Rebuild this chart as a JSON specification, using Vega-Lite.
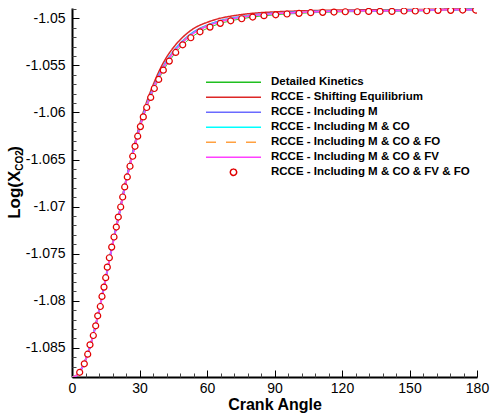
{
  "$schema": "https://vega.github.io/schema/vega-lite/v6.json",
  "width": 405,
  "height": 369,
  "autosize": {"type": "none"},
  "padding": {"left": 72, "top": 8, "right": 13, "bottom": 41},
  "config": {"view": {"stroke": null}, "font": "Liberation Sans"},
  "datasets": {
    "lines": [
      {"series":"Detailed Kinetics","angle":0,"value":-1.08818},{"series":"Detailed Kinetics","angle":3,"value":-1.08772},{"series":"Detailed Kinetics","angle":6,"value":-1.08634},{"series":"Detailed Kinetics","angle":9,"value":-1.0841},{"series":"Detailed Kinetics","angle":12,"value":-1.08111},{"series":"Detailed Kinetics","angle":15,"value":-1.07768},{"series":"Detailed Kinetics","angle":18,"value":-1.0741},{"series":"Detailed Kinetics","angle":21,"value":-1.07085},{"series":"Detailed Kinetics","angle":24,"value":-1.06745},{"series":"Detailed Kinetics","angle":27,"value":-1.06455},{"series":"Detailed Kinetics","angle":30,"value":-1.06184},{"series":"Detailed Kinetics","angle":33,"value":-1.0596},{"series":"Detailed Kinetics","angle":36,"value":-1.0578},{"series":"Detailed Kinetics","angle":39,"value":-1.05626},{"series":"Detailed Kinetics","angle":42,"value":-1.05499},{"series":"Detailed Kinetics","angle":45,"value":-1.05397},{"series":"Detailed Kinetics","angle":48,"value":-1.05312},{"series":"Detailed Kinetics","angle":52,"value":-1.05223},{"series":"Detailed Kinetics","angle":56,"value":-1.05155},{"series":"Detailed Kinetics","angle":60,"value":-1.05108},{"series":"Detailed Kinetics","angle":65,"value":-1.05061},{"series":"Detailed Kinetics","angle":70,"value":-1.05029},{"series":"Detailed Kinetics","angle":75,"value":-1.05006},{"series":"Detailed Kinetics","angle":80,"value":-1.04987},{"series":"Detailed Kinetics","angle":90,"value":-1.04963},{"series":"Detailed Kinetics","angle":100,"value":-1.04948},{"series":"Detailed Kinetics","angle":110,"value":-1.04937},{"series":"Detailed Kinetics","angle":120,"value":-1.04931},{"series":"Detailed Kinetics","angle":135,"value":-1.04926},{"series":"Detailed Kinetics","angle":150,"value":-1.04922},{"series":"Detailed Kinetics","angle":165,"value":-1.04915},{"series":"Detailed Kinetics","angle":180,"value":-1.04912},
      {"series":"RCCE - Shifting Equilibrium","angle":0,"value":-1.08813},{"series":"RCCE - Shifting Equilibrium","angle":3,"value":-1.08767},{"series":"RCCE - Shifting Equilibrium","angle":6,"value":-1.08626},{"series":"RCCE - Shifting Equilibrium","angle":9,"value":-1.084},{"series":"RCCE - Shifting Equilibrium","angle":12,"value":-1.08101},{"series":"RCCE - Shifting Equilibrium","angle":15,"value":-1.07756},{"series":"RCCE - Shifting Equilibrium","angle":18,"value":-1.07395},{"series":"RCCE - Shifting Equilibrium","angle":21,"value":-1.07065},{"series":"RCCE - Shifting Equilibrium","angle":24,"value":-1.06715},{"series":"RCCE - Shifting Equilibrium","angle":27,"value":-1.06415},{"series":"RCCE - Shifting Equilibrium","angle":30,"value":-1.06134},{"series":"RCCE - Shifting Equilibrium","angle":33,"value":-1.059},{"series":"RCCE - Shifting Equilibrium","angle":36,"value":-1.0571},{"series":"RCCE - Shifting Equilibrium","angle":39,"value":-1.05546},{"series":"RCCE - Shifting Equilibrium","angle":42,"value":-1.05414},{"series":"RCCE - Shifting Equilibrium","angle":45,"value":-1.05312},{"series":"RCCE - Shifting Equilibrium","angle":48,"value":-1.05229},{"series":"RCCE - Shifting Equilibrium","angle":52,"value":-1.05143},{"series":"RCCE - Shifting Equilibrium","angle":56,"value":-1.05082},{"series":"RCCE - Shifting Equilibrium","angle":60,"value":-1.05043},{"series":"RCCE - Shifting Equilibrium","angle":65,"value":-1.05004},{"series":"RCCE - Shifting Equilibrium","angle":70,"value":-1.04979},{"series":"RCCE - Shifting Equilibrium","angle":75,"value":-1.04961},{"series":"RCCE - Shifting Equilibrium","angle":80,"value":-1.04947},{"series":"RCCE - Shifting Equilibrium","angle":90,"value":-1.04931},{"series":"RCCE - Shifting Equilibrium","angle":100,"value":-1.04922},{"series":"RCCE - Shifting Equilibrium","angle":110,"value":-1.04915},{"series":"RCCE - Shifting Equilibrium","angle":120,"value":-1.04911},{"series":"RCCE - Shifting Equilibrium","angle":135,"value":-1.04909},{"series":"RCCE - Shifting Equilibrium","angle":150,"value":-1.04907},{"series":"RCCE - Shifting Equilibrium","angle":165,"value":-1.04902},{"series":"RCCE - Shifting Equilibrium","angle":180,"value":-1.049},
      {"series":"RCCE - Including M","angle":0,"value":-1.08816},{"series":"RCCE - Including M","angle":3,"value":-1.0877},{"series":"RCCE - Including M","angle":6,"value":-1.0863},{"series":"RCCE - Including M","angle":9,"value":-1.08405},{"series":"RCCE - Including M","angle":12,"value":-1.08106},{"series":"RCCE - Including M","angle":15,"value":-1.07762},{"series":"RCCE - Including M","angle":18,"value":-1.07403},{"series":"RCCE - Including M","angle":21,"value":-1.07075},{"series":"RCCE - Including M","angle":24,"value":-1.0673},{"series":"RCCE - Including M","angle":27,"value":-1.06435},{"series":"RCCE - Including M","angle":30,"value":-1.06159},{"series":"RCCE - Including M","angle":33,"value":-1.0593},{"series":"RCCE - Including M","angle":36,"value":-1.05745},{"series":"RCCE - Including M","angle":39,"value":-1.05586},{"series":"RCCE - Including M","angle":42,"value":-1.05457},{"series":"RCCE - Including M","angle":45,"value":-1.05355},{"series":"RCCE - Including M","angle":48,"value":-1.05271},{"series":"RCCE - Including M","angle":52,"value":-1.05183},{"series":"RCCE - Including M","angle":56,"value":-1.05119},{"series":"RCCE - Including M","angle":60,"value":-1.05076},{"series":"RCCE - Including M","angle":65,"value":-1.05033},{"series":"RCCE - Including M","angle":70,"value":-1.05004},{"series":"RCCE - Including M","angle":75,"value":-1.04984},{"series":"RCCE - Including M","angle":80,"value":-1.04967},{"series":"RCCE - Including M","angle":90,"value":-1.04947},{"series":"RCCE - Including M","angle":100,"value":-1.04935},{"series":"RCCE - Including M","angle":110,"value":-1.04926},{"series":"RCCE - Including M","angle":120,"value":-1.04921},{"series":"RCCE - Including M","angle":135,"value":-1.04918},{"series":"RCCE - Including M","angle":150,"value":-1.04915},{"series":"RCCE - Including M","angle":165,"value":-1.04909},{"series":"RCCE - Including M","angle":180,"value":-1.04906},
      {"series":"RCCE - Including M & CO","angle":0,"value":-1.08816},{"series":"RCCE - Including M & CO","angle":3,"value":-1.0877},{"series":"RCCE - Including M & CO","angle":6,"value":-1.0863},{"series":"RCCE - Including M & CO","angle":9,"value":-1.08405},{"series":"RCCE - Including M & CO","angle":12,"value":-1.08106},{"series":"RCCE - Including M & CO","angle":15,"value":-1.07763},{"series":"RCCE - Including M & CO","angle":18,"value":-1.07404},{"series":"RCCE - Including M & CO","angle":21,"value":-1.07077},{"series":"RCCE - Including M & CO","angle":24,"value":-1.06733},{"series":"RCCE - Including M & CO","angle":27,"value":-1.06439},{"series":"RCCE - Including M & CO","angle":30,"value":-1.06163},{"series":"RCCE - Including M & CO","angle":33,"value":-1.05934},{"series":"RCCE - Including M & CO","angle":36,"value":-1.0575},{"series":"RCCE - Including M & CO","angle":39,"value":-1.05591},{"series":"RCCE - Including M & CO","angle":42,"value":-1.05462},{"series":"RCCE - Including M & CO","angle":45,"value":-1.0536},{"series":"RCCE - Including M & CO","angle":48,"value":-1.05276},{"series":"RCCE - Including M & CO","angle":52,"value":-1.05187},{"series":"RCCE - Including M & CO","angle":56,"value":-1.05123},{"series":"RCCE - Including M & CO","angle":60,"value":-1.05079},{"series":"RCCE - Including M & CO","angle":65,"value":-1.05036},{"series":"RCCE - Including M & CO","angle":70,"value":-1.05006},{"series":"RCCE - Including M & CO","angle":75,"value":-1.04986},{"series":"RCCE - Including M & CO","angle":80,"value":-1.04969},{"series":"RCCE - Including M & CO","angle":90,"value":-1.04948},{"series":"RCCE - Including M & CO","angle":100,"value":-1.04936},{"series":"RCCE - Including M & CO","angle":110,"value":-1.04927},{"series":"RCCE - Including M & CO","angle":120,"value":-1.04922},{"series":"RCCE - Including M & CO","angle":135,"value":-1.04918},{"series":"RCCE - Including M & CO","angle":150,"value":-1.04915},{"series":"RCCE - Including M & CO","angle":165,"value":-1.04909},{"series":"RCCE - Including M & CO","angle":180,"value":-1.04906},
      {"series":"RCCE - Including M & CO & FO","angle":0,"value":-1.08816},{"series":"RCCE - Including M & CO & FO","angle":3,"value":-1.08771},{"series":"RCCE - Including M & CO & FO","angle":6,"value":-1.08631},{"series":"RCCE - Including M & CO & FO","angle":9,"value":-1.08406},{"series":"RCCE - Including M & CO & FO","angle":12,"value":-1.08107},{"series":"RCCE - Including M & CO & FO","angle":15,"value":-1.07764},{"series":"RCCE - Including M & CO & FO","angle":18,"value":-1.07406},{"series":"RCCE - Including M & CO & FO","angle":21,"value":-1.07079},{"series":"RCCE - Including M & CO & FO","angle":24,"value":-1.06736},{"series":"RCCE - Including M & CO & FO","angle":27,"value":-1.06443},{"series":"RCCE - Including M & CO & FO","angle":30,"value":-1.06167},{"series":"RCCE - Including M & CO & FO","angle":33,"value":-1.05939},{"series":"RCCE - Including M & CO & FO","angle":36,"value":-1.05755},{"series":"RCCE - Including M & CO & FO","angle":39,"value":-1.05596},{"series":"RCCE - Including M & CO & FO","angle":42,"value":-1.05467},{"series":"RCCE - Including M & CO & FO","angle":45,"value":-1.05365},{"series":"RCCE - Including M & CO & FO","angle":48,"value":-1.0528},{"series":"RCCE - Including M & CO & FO","angle":52,"value":-1.05191},{"series":"RCCE - Including M & CO & FO","angle":56,"value":-1.05126},{"series":"RCCE - Including M & CO & FO","angle":60,"value":-1.05082},{"series":"RCCE - Including M & CO & FO","angle":65,"value":-1.05038},{"series":"RCCE - Including M & CO & FO","angle":70,"value":-1.05008},{"series":"RCCE - Including M & CO & FO","angle":75,"value":-1.04988},{"series":"RCCE - Including M & CO & FO","angle":80,"value":-1.0497},{"series":"RCCE - Including M & CO & FO","angle":90,"value":-1.04949},{"series":"RCCE - Including M & CO & FO","angle":100,"value":-1.04937},{"series":"RCCE - Including M & CO & FO","angle":110,"value":-1.04927},{"series":"RCCE - Including M & CO & FO","angle":120,"value":-1.04922},{"series":"RCCE - Including M & CO & FO","angle":135,"value":-1.04918},{"series":"RCCE - Including M & CO & FO","angle":150,"value":-1.04915},{"series":"RCCE - Including M & CO & FO","angle":165,"value":-1.04909},{"series":"RCCE - Including M & CO & FO","angle":180,"value":-1.04906},
      {"series":"RCCE - Including M & CO & FV","angle":0,"value":-1.08817},{"series":"RCCE - Including M & CO & FV","angle":3,"value":-1.08771},{"series":"RCCE - Including M & CO & FV","angle":6,"value":-1.08632},{"series":"RCCE - Including M & CO & FV","angle":9,"value":-1.08407},{"series":"RCCE - Including M & CO & FV","angle":12,"value":-1.08108},{"series":"RCCE - Including M & CO & FV","angle":15,"value":-1.07765},{"series":"RCCE - Including M & CO & FV","angle":18,"value":-1.07407},{"series":"RCCE - Including M & CO & FV","angle":21,"value":-1.07081},{"series":"RCCE - Including M & CO & FV","angle":24,"value":-1.06739},{"series":"RCCE - Including M & CO & FV","angle":27,"value":-1.06447},{"series":"RCCE - Including M & CO & FV","angle":30,"value":-1.06172},{"series":"RCCE - Including M & CO & FV","angle":33,"value":-1.05944},{"series":"RCCE - Including M & CO & FV","angle":36,"value":-1.0576},{"series":"RCCE - Including M & CO & FV","angle":39,"value":-1.05601},{"series":"RCCE - Including M & CO & FV","angle":42,"value":-1.05472},{"series":"RCCE - Including M & CO & FV","angle":45,"value":-1.0537},{"series":"RCCE - Including M & CO & FV","angle":48,"value":-1.05285},{"series":"RCCE - Including M & CO & FV","angle":52,"value":-1.05195},{"series":"RCCE - Including M & CO & FV","angle":56,"value":-1.0513},{"series":"RCCE - Including M & CO & FV","angle":60,"value":-1.05085},{"series":"RCCE - Including M & CO & FV","angle":65,"value":-1.05041},{"series":"RCCE - Including M & CO & FV","angle":70,"value":-1.0501},{"series":"RCCE - Including M & CO & FV","angle":75,"value":-1.0499},{"series":"RCCE - Including M & CO & FV","angle":80,"value":-1.04972},{"series":"RCCE - Including M & CO & FV","angle":90,"value":-1.0495},{"series":"RCCE - Including M & CO & FV","angle":100,"value":-1.04938},{"series":"RCCE - Including M & CO & FV","angle":110,"value":-1.04928},{"series":"RCCE - Including M & CO & FV","angle":120,"value":-1.04923},{"series":"RCCE - Including M & CO & FV","angle":135,"value":-1.04919},{"series":"RCCE - Including M & CO & FV","angle":150,"value":-1.04916},{"series":"RCCE - Including M & CO & FV","angle":165,"value":-1.0491},{"series":"RCCE - Including M & CO & FV","angle":180,"value":-1.04907}
    ],
    "markers": [
      {"angle":3.42,"value":-1.0876},{"angle":5.47,"value":-1.0867},{"angle":6.98,"value":-1.08568},{"angle":8.0,"value":-1.08468},{"angle":9.47,"value":-1.08369},{"angle":10.53,"value":-1.08266},{"angle":11.42,"value":-1.0816},{"angle":12.58,"value":-1.08061},{"angle":13.33,"value":-1.07954},{"angle":14.22,"value":-1.07855},{"angle":14.98,"value":-1.07755},{"angle":15.69,"value":-1.07643},{"angle":16.6,"value":-1.07543},{"angle":17.64,"value":-1.0743},{"angle":18.67,"value":-1.07323},{"angle":19.69,"value":-1.07217},{"angle":20.58,"value":-1.07111},{"angle":21.64,"value":-1.07004},{"angle":22.53,"value":-1.06898},{"angle":23.42,"value":-1.06791},{"angle":24.58,"value":-1.06685},{"angle":25.78,"value":-1.06571},{"angle":26.98,"value":-1.06465},{"angle":28.0,"value":-1.06359},{"angle":29.2,"value":-1.06252},{"angle":30.4,"value":-1.0615},{"angle":31.69,"value":-1.06047},{"angle":33.2,"value":-1.05947},{"angle":34.98,"value":-1.0584},{"angle":36.58,"value":-1.05745},{"angle":38.53,"value":-1.05649},{"angle":40.58,"value":-1.0555},{"angle":43.24,"value":-1.05454},{"angle":46.09,"value":-1.05362},{"angle":49.2,"value":-1.05281},{"angle":52.8,"value":-1.05206},{"angle":56.89,"value":-1.05143},{"angle":61.33,"value":-1.05093},{"angle":65.91,"value":-1.05053},{"angle":70.53,"value":-1.05026},{"angle":75.42,"value":-1.05004},{"angle":80.31,"value":-1.04986},{"angle":85.33,"value":-1.04972},{"angle":90.53,"value":-1.04962},{"angle":95.56,"value":-1.04954},{"angle":100.9,"value":-1.04947},{"angle":106.09,"value":-1.0494},{"angle":111.42,"value":-1.04936},{"angle":116.44,"value":-1.04933},{"angle":121.47,"value":-1.0493},{"angle":126.8,"value":-1.0493},{"angle":131.87,"value":-1.04926},{"angle":136.89,"value":-1.04926},{"angle":142.2,"value":-1.04926},{"angle":147.56,"value":-1.04922},{"angle":152.58,"value":-1.04922},{"angle":157.64,"value":-1.04919},{"angle":162.67,"value":-1.04915},{"angle":168.31,"value":-1.04915},{"angle":173.64,"value":-1.04912},{"angle":179.42,"value":-1.04912}
    ]
  },
  "layer": [
    {
      "data": {"name": "lines"},
      "encoding": {
        "x": {"field": "angle", "type": "quantitative",
          "scale": {"domain": [0, 180], "nice": false, "zero": false},
          "axis": {"orient": "bottom", "title": "Crank Angle", "values": [0, 30, 60, 90, 120, 150, 180], "format": "d", "grid": false,
            "domainColor": "black", "domainWidth": 2, "tickColor": "black", "tickWidth": 1, "tickSize": -7,
            "labelFont": "Liberation Sans", "labelFontSize": 14, "labelColor": "black", "labelPadding": 11, "labelFlush": false, "labelOverlap": false,
            "titleFont": "Liberation Sans", "titleFontSize": 16, "titleFontWeight": "bold", "titleColor": "black",
            "titleX": 202.5, "titleY": 32, "titleBaseline": "alphabetic", "titleAlign": "center"}},
        "y": {"field": "value", "type": "quantitative",
          "scale": {"domain": [-1.0881, -1.0489], "nice": false, "zero": false},
          "axis": {"orient": "left", "title": "Log(X\u00a0\u00a0\u00a0\u00a0)", "values": [-1.085, -1.08, -1.075, -1.07, -1.065, -1.06, -1.055, -1.05], "format": ".3~f",
            "labelExpr": "replace(datum.label, '\u2212', '-')", "grid": false,
            "domainColor": "black", "domainWidth": 2, "tickColor": "black", "tickWidth": 1, "tickSize": -7,
            "labelFont": "Liberation Sans", "labelFontSize": 14, "labelColor": "black", "labelPadding": 14, "labelOverlap": false,
            "titleFont": "Liberation Sans", "titleFontSize": 17, "titleFontWeight": "bold", "titleColor": "black",
            "titleAngle": 270, "titleX": -58, "titleY": 174, "titleAlign": "center", "titleBaseline": "middle"}},
        "color": {"field": "series", "type": "nominal",
          "scale": {"domain": ["Detailed Kinetics", "RCCE - Shifting Equilibrium", "RCCE - Including M", "RCCE - Including M & CO", "RCCE - Including M & CO & FO", "RCCE - Including M & CO & FV", "RCCE - Including M & CO & FV & FO"],
                    "range": ["#1fbf1f", "#dd2626", "#6a6aff", "#00ffff", "#ffa040", "#ff40ff", "#e00000"]},
          "legend": {"title": null, "orient": "none", "legendX": 133, "legendY": 67, "padding": 0,
            "symbolType": "stroke", "symbolSize": 3025, "symbolStrokeWidth": 1.5,
            "labelFont": "Liberation Sans", "labelFontSize": 11.5, "labelFontWeight": "bold", "labelColor": "black",
            "labelOffset": 9, "labelLimit": 300, "rowPadding": 0, "clipHeight": 14.5,
            "encode": {"symbols": {"update": {
              "shape": {"signal": "datum.value === 'RCCE - Including M & CO & FV & FO' ? 'circle' : 'stroke'"},
              "size": {"signal": "datum.value === 'RCCE - Including M & CO & FV & FO' ? 40 : 3025"},
              "fill": {"signal": "datum.value === 'RCCE - Including M & CO & FV & FO' ? 'white' : 'transparent'"}}}}}},
        "strokeDash": {"field": "series", "type": "nominal",
          "scale": {"domain": ["Detailed Kinetics", "RCCE - Shifting Equilibrium", "RCCE - Including M", "RCCE - Including M & CO", "RCCE - Including M & CO & FO", "RCCE - Including M & CO & FV", "RCCE - Including M & CO & FV & FO"],
                    "range": [[1, 0], [1, 0], [1, 0], [1, 0], [10, 10], [1, 0], [1, 0]]},
          "legend": {"title": null}}
      },
      "layer": [
        {"transform": [{"filter": "datum.series === 'Detailed Kinetics'"}], "mark": {"type": "line", "strokeWidth": 1, "interpolate": "monotone", "clip": true}},
        {"transform": [{"filter": "datum.series === 'RCCE - Shifting Equilibrium'"}], "mark": {"type": "line", "strokeWidth": 1.5, "interpolate": "monotone", "clip": true}},
        {"transform": [{"filter": "datum.series === 'RCCE - Including M'"}], "mark": {"type": "line", "strokeWidth": 2, "interpolate": "monotone", "clip": true}},
        {"transform": [{"filter": "datum.series !== 'Detailed Kinetics' && datum.series !== 'RCCE - Shifting Equilibrium' && datum.series !== 'RCCE - Including M'"}], "mark": {"type": "line", "strokeWidth": 1.5, "interpolate": "monotone", "clip": true}}
      ]
    },
    {
      "data": {"name": "markers"},
      "mark": {"type": "point", "shape": "circle", "filled": true, "fill": "white", "stroke": "#e00000", "strokeWidth": 1.2, "size": 36, "opacity": 1, "clip": true},
      "encoding": {
        "x": {"field": "angle", "type": "quantitative",
          "scale": {"domain": [0, 180], "nice": false, "zero": false},
          "axis": {"orient": "bottom", "title": null, "values": [6, 12, 18, 24, 36, 42, 48, 54, 66, 72, 78, 84, 96, 102, 108, 114, 126, 132, 138, 144, 156, 162, 168, 174],
            "labels": false, "domain": false, "grid": false, "tickColor": "#444444", "tickWidth": 1, "tickSize": -4}},
        "y": {"field": "value", "type": "quantitative",
          "scale": {"domain": [-1.0881, -1.0489], "nice": false, "zero": false},
          "axis": {"orient": "left", "title": "CO2", "values": [-1.088, -1.087, -1.086, -1.084, -1.083, -1.082, -1.081, -1.079, -1.078, -1.077, -1.076, -1.074, -1.073, -1.072, -1.071, -1.069, -1.068, -1.067, -1.066, -1.064, -1.063, -1.062, -1.061, -1.059, -1.058, -1.057, -1.056, -1.054, -1.053, -1.052, -1.051, -1.049],
            "labels": false, "domain": false, "grid": false, "tickColor": "#444444", "tickWidth": 1, "tickSize": -4,
            "titleFont": "Liberation Sans", "titleFontSize": 10, "titleFontWeight": "bold", "titleColor": "black",
            "titleAngle": 270, "titleX": -53, "titleY": 152, "titleAlign": "center", "titleBaseline": "middle"}}
      }
    }
  ],
  "resolve": {"axis": {"x": "independent", "y": "independent"}}
}
